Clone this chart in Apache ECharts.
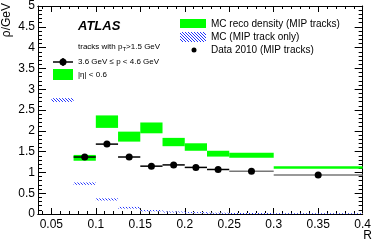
<!DOCTYPE html>
<html><head><meta charset="utf-8">
<script src="https://cdn.jsdelivr.net/npm/echarts@6/dist/echarts.min.js"></script>
<style>html,body{margin:0;padding:0;background:#fff}#c{width:374px;height:243px}</style>
</head><body><div id="c"></div>
<script>
// ---- data ----
const binLow  = [0.05, 0.075, 0.1, 0.125, 0.15, 0.175, 0.2, 0.225, 0.25, 0.3];
const binHigh = [0.075, 0.1, 0.125, 0.15, 0.175, 0.2, 0.225, 0.25, 0.3, 0.4];
const mcReco    = [null, 1.35, 2.22, 1.86, 2.07, 1.73, 1.61, 1.45, 1.415, 1.12];
const mcRecoErr = [null, 0.07, 0.15, 0.12, 0.13, 0.10, 0.09, 0.07, 0.06, 0.03];
const mcMip     = [2.74, 0.73, 0.35, 0.15, 0.08, 0.05, 0.035, 0.022, 0.015, 0.01];
const mcMipErr  = [0.045, 0.028, 0.025, 0.02, 0.015, 0.01, 0.01, 0.008, 0.008, 0.006];
const dataVal   = [null, 1.37, 1.68, 1.37, 1.15, 1.18, 1.12, 1.07, 1.03, 0.94];
const dataErr   = [null, 0.03, 0.06, 0.04, 0.03, 0.02, 0.02, 0.02, 0.02, 0.01];
const xMajorTicks = [0.05, 0.1, 0.15, 0.2, 0.25, 0.3, 0.35, 0.4];
const xTickLabels = ['0.05', '0.1', '0.15', '0.2', '0.25', '0.3', '0.35', '0.4'];
const xMinorTicks = [0.04,0.06,0.07,0.08,0.09,0.11,0.12,0.13,0.14,0.16,0.17,0.18,0.19,0.21,0.22,0.23,0.24,0.26,0.27,0.28,0.29,0.31,0.32,0.33,0.34,0.36,0.37,0.38,0.39];

const FONT = "'Liberation Sans', Arial, Helvetica, sans-serif";
const chart = echarts.init(document.getElementById('c'), null, {renderer: 'canvas'});

function hatchCanvas() {
  const n = 3;
  const c = document.createElement('canvas'); c.width = n; c.height = n;
  const g = c.getContext('2d');
  g.fillStyle = '#ffffff'; g.fillRect(0, 0, n, n);
  g.fillStyle = '#2233ff';
  for (let i = 0; i < n; i++) g.fillRect(i, i, 1, 1);
  return c;
}
const hatch = hatchCanvas();

function boxes(vals, errs) {
  const out = [];
  for (let i = 0; i < binLow.length; i++) {
    if (vals[i] == null) continue;
    out.push([binLow[i], binHigh[i], vals[i], errs[i]]);
  }
  return out;
}
function boxRender(style) {
  return function (params, api) {
    const p0 = api.coord([api.value(0), api.value(2) + api.value(3)]);
    const p1 = api.coord([api.value(1), api.value(2) - api.value(3)]);
    return {type: 'rect', shape: {x: p0[0], y: p0[1], width: p1[0] - p0[0], height: Math.max(1, p1[1] - p0[1])}, style: style};
  };
}
function pointRender(params, api) {
  const lo = api.value(0), hi = api.value(1), v = api.value(2), e = api.value(3);
  const mid = (lo + hi) / 2;
  const a = api.coord([lo, v]), b = api.coord([hi, v]);
  const c = api.coord([mid, v]);
  const t = api.coord([mid, v + e]), d = api.coord([mid, v - e]);
  const col = (hi - lo) > 0.03 ? '#777' : '#000';
  return {type: 'group', children: [
    {type: 'line', shape: {x1: a[0], y1: a[1], x2: b[0], y2: b[1]}, style: {stroke: col, lineWidth: 1.5}},
    {type: 'line', shape: {x1: t[0], y1: t[1], x2: d[0], y2: d[1]}, style: {stroke: '#000', lineWidth: 1.5}},
    {type: 'circle', shape: {cx: c[0], cy: c[1], r: 3.5}, style: {fill: '#000'}}
  ]};
}

const labelFont = {color: '#000', fontSize: 12, fontFamily: FONT};
function xAx(pos, len, vals, withLabels) {
  return {type: 'value', min: 0.035, max: 0.4, position: pos, splitLine: {show: false},
    axisLine: {show: true, lineStyle: {color: '#000', width: 1}},
    axisTick: {show: true, inside: true, length: len, customValues: vals, lineStyle: {color: '#000', width: 1}},
    axisLabel: withLabels ? Object.assign({margin: 5, customValues: xMajorTicks,
      formatter: function (v) { const i = xMajorTicks.findIndex(m => Math.abs(m - v) < 1e-6); return i >= 0 ? xTickLabels[i] : ''; }}, labelFont)
      : {show: false}};
}
function yAx(pos, withLabels) {
  return {type: 'value', min: 0, max: 5, interval: 0.5, position: pos, splitLine: {show: false},
    axisLine: {show: true, lineStyle: {color: '#000', width: 1}},
    axisTick: {show: true, inside: true, length: 8, lineStyle: {color: '#000', width: 1}},
    minorTick: {show: true, splitNumber: 5, length: 4, lineStyle: {color: '#000', width: 1}},
    axisLabel: withLabels ? Object.assign({margin: 3, formatter: v => String(v)}, labelFont) : {show: false}};
}

chart.setOption({
  animation: false,
  grid: {left: 38, right: 11, top: 5, bottom: 29},
  xAxis: [
    xAx('bottom', 6, xMajorTicks, true),
    xAx('bottom', 3, xMinorTicks, false),
    xAx('top', 6, xMajorTicks, false),
    xAx('top', 3, xMinorTicks, false)
  ],
  yAxis: [yAx('left', true), yAx('right', false)],
  series: [
    {type: 'custom', name: 'MC reco density (MIP tracks)', xAxisIndex: 0, yAxisIndex: 0, clip: true,
      encode: {x: [0, 1], y: 2}, data: boxes(mcReco, mcRecoErr),
      renderItem: boxRender({fill: '#00ff00'})},
    {type: 'custom', name: 'MC (MIP track only)', xAxisIndex: 0, yAxisIndex: 0, clip: true,
      encode: {x: [0, 1], y: 2}, data: boxes(mcMip, mcMipErr),
      renderItem: boxRender({fill: {image: hatch, repeat: 'repeat'}})},
    {type: 'custom', name: 'Data 2010 (MIP tracks)', xAxisIndex: 0, yAxisIndex: 0, clip: true,
      encode: {x: [0, 1], y: 2}, data: boxes(dataVal, dataErr),
      renderItem: pointRender}
  ],
  graphic: [
    {type: 'text', x: 7, y: 3, rotation: Math.PI / 2,
      style: {text: 'ρ/GeV', fill: '#000', font: '12px ' + FONT, align: 'right', verticalAlign: 'middle'}},
    {type: 'text', x: 372, y: 236,
      style: {text: 'R', fill: '#000', font: '12px ' + FONT, align: 'right', verticalAlign: 'middle'}},
    {type: 'text', x: 78, y: 26,
      style: {text: 'ATLAS', fill: '#000', font: 'italic bold 13px ' + FONT, align: 'left', verticalAlign: 'middle'}},
    {type: 'text', x: 78, y: 47,
      style: {text: '{a|tracks with p}{s|T}{a|>1.5 GeV}', align: 'left', verticalAlign: 'middle',
        rich: {a: {fontSize: 8, fontFamily: FONT, color: '#000'},
               s: {fontSize: 6, fontFamily: FONT, color: '#000', padding: [4, 0, 0, 0]}}}},
    {type: 'text', x: 78, y: 62,
      style: {text: '3.6 GeV ≤ p < 4.6 GeV', fill: '#000', font: '8px ' + FONT, align: 'left', verticalAlign: 'middle'}},
    {type: 'line', shape: {x1: 53, y1: 62, x2: 73, y2: 62}, style: {stroke: '#000', lineWidth: 1.5}},
    {type: 'line', shape: {x1: 63, y1: 58, x2: 63, y2: 66}, style: {stroke: '#000', lineWidth: 1.5}},
    {type: 'circle', shape: {cx: 63, cy: 62, r: 3.5}, style: {fill: '#000'}},
    {type: 'rect', shape: {x: 53, y: 69, width: 20, height: 11}, style: {fill: '#00ff00'}},
    {type: 'text', x: 78, y: 75,
      style: {text: '|η| < 0.6', fill: '#000', font: '8px ' + FONT, align: 'left', verticalAlign: 'middle'}},
    {type: 'rect', shape: {x: 180, y: 19, width: 26, height: 9}, style: {fill: '#00ff00'}},
    {type: 'text', x: 211, y: 24,
      style: {text: 'MC reco density (MIP tracks)', fill: '#000', font: '10px ' + FONT, align: 'left', verticalAlign: 'middle'}},
    {type: 'rect', shape: {x: 180, y: 32, width: 26, height: 10}, style: {fill: {image: hatch, repeat: 'repeat'}}},
    {type: 'text', x: 211, y: 37,
      style: {text: 'MC (MIP track only)', fill: '#000', font: '10px ' + FONT, align: 'left', verticalAlign: 'middle'}},
    {type: 'circle', shape: {cx: 194, cy: 50, r: 2.5}, style: {fill: '#000'}},
    {type: 'text', x: 211, y: 50,
      style: {text: 'Data 2010 (MIP tracks)', fill: '#000', font: '10px ' + FONT, align: 'left', verticalAlign: 'middle'}}
  ]
});
</script>
</body></html>
